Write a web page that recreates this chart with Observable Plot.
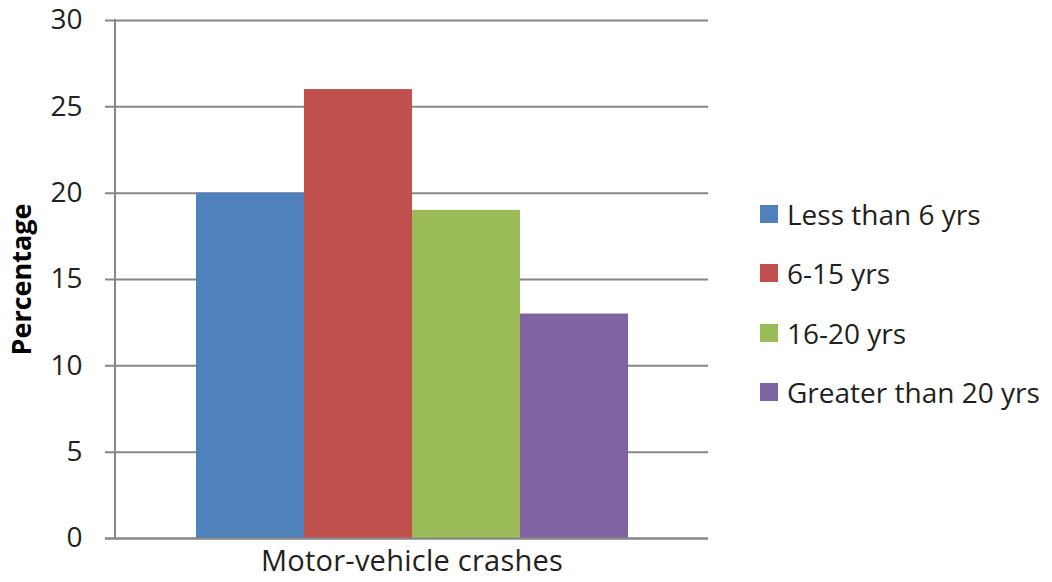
<!DOCTYPE html>
<html>
<head>
<meta charset="utf-8">
<script src="https://cdn.jsdelivr.net/npm/d3@7"></script>
<script src="https://cdn.jsdelivr.net/npm/@observablehq/plot@0.6"></script>
<style>
  html, body { margin: 0; padding: 0; background: #fff; }
  #wrap { position: relative; width: 1052px; height: 582px; font-family: "Open Sans", sans-serif; }
  #legend { position: absolute; left: 760px; top: 184.5px; }
  .item { display: flex; align-items: center; height: 59.3px; font-size: 28px; color: #231f20; }
  .sw { width: 18px; height: 18px; margin-right: 9px; flex: none; }
  #wrap svg g[aria-label="fx-axis tick label"] text { letter-spacing: 0.25px; }
</style>
</head>
<body>
<div id="wrap"></div>
<script>
const categories = ["Motor-vehicle crashes"];
const series = ["Less than 6 yrs", "6-15 yrs", "16-20 yrs", "Greater than 20 yrs"];
const values = [20, 26, 19, 13];
const colors = ["#4F81BD", "#C0504D", "#9BBB59", "#8064A2"];
const yTicks = [0, 5, 10, 15, 20, 25, 30];

const data = series.map((s, i) => ({category: categories[0], series: s, value: values[i]}));

const leftAxisLine = (index, scales, values, dims) => {
  const x = dims.marginLeft;
  const y1 = scales.y(30), y2 = scales.y(0);
  const line = document.createElementNS("http://www.w3.org/2000/svg", "line");
  line.setAttribute("x1", x); line.setAttribute("x2", x);
  line.setAttribute("y1", y1 - 1); line.setAttribute("y2", y2 + 1);
  line.setAttribute("stroke", "#878787");
  line.setAttribute("stroke-width", 2);
  return line;
};

const chart = Plot.plot({
  width: 1052,
  height: 582,
  marginLeft: 115,
  marginRight: 344,
  marginTop: 20,
  marginBottom: 44,
  style: {fontFamily: "'Open Sans', sans-serif", fontSize: "28px", color: "#231f20", background: "#fff"},
  fx: {domain: categories, padding: 0, label: null},
  x: {domain: series, paddingInner: 0, paddingOuter: 0.745, axis: null},
  y: {domain: [0, 30], ticks: yTicks, label: null},
  color: {domain: series, range: colors},
  marks: [
    Plot.ruleY(yTicks, {stroke: "#878787", strokeWidth: 2, strokeOpacity: 1, insetLeft: -10}),
    Plot.barY(data, {fx: "category", x: "series", y: "value", fill: "series"}),
    Plot.ruleY([0], {stroke: "#878787", strokeWidth: 2, strokeOpacity: 1, insetLeft: -10}),
    leftAxisLine,
    Plot.axisY({ticks: yTicks, tickSize: 0, tickPadding: 33, fontSize: 28, label: null}),
    Plot.axisFx({anchor: "bottom", tickSize: 0, tickPadding: 12, fontSize: 29, label: null}),
    Plot.text(["Percentage"], {frameAnchor: "left", textAnchor: "middle", dx: -93, rotate: -90, fontWeight: "bold", fontSize: 27, fill: "#000", facet: "exclude"})
  ]
});
document.getElementById("wrap").appendChild(chart);

const legend = document.createElement("div");
legend.id = "legend";
series.forEach((s, i) => {
  const it = document.createElement("div");
  it.className = "item";
  const sw = document.createElement("div");
  sw.className = "sw";
  sw.style.background = colors[i];
  const t = document.createElement("span");
  t.textContent = s;
  it.appendChild(sw); it.appendChild(t);
  legend.appendChild(it);
});
document.getElementById("wrap").appendChild(legend);
</script>
</body>
</html>
